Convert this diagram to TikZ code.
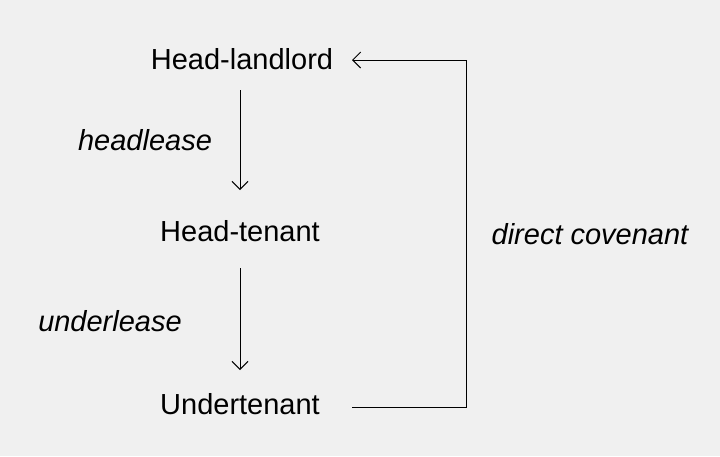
\documentclass[tikz,border=0pt]{standalone}
\usepackage{fontspec}
\setmainfont{Liberation Sans}
\usetikzlibrary{arrows.meta}
\tikzset{
  party/.style={font=\fontsize{29}{32}\selectfont},
  lease/.style={font=\fontsize{29}{32}\selectfont\itshape},
  link/.style={draw, line width=1pt, -{Straight Barb[length=8pt,width=16pt]}}
}
\begin{document}
\begin{tikzpicture}[x=1pt,y=-1pt]
\fill[fill={rgb,255:red,240;green,240;blue,240}] (0,0) rectangle (720,456);
\useasboundingbox (0,0) rectangle (720,456);
\node [party] (landlord) at (242,59) {Head-landlord};
\node [party] (tenant) at (240,231) {Head-tenant};
\node [party] (under) at (240,404) {Undertenant};
\coordinate (a1) at (240,90);
\coordinate (b1) at (240,190);
\coordinate (a2) at (240,268);
\coordinate (b2) at (240,370);
\draw [link] (a1) -- (b1);
\draw [link] (a2) -- (b2);
\node [lease] (headlease) at (145,140) {headlease};
\node [lease] (underlease) at (110,321) {underlease};
\coordinate (c1) at (352,407);
\coordinate (c2) at (352,60);
\draw [link] (c1) -- (466,407) -- (466,60) -- (c2);
\node [lease] (covenant) at (590,234) {direct covenant};
\end{tikzpicture}
\end{document}
